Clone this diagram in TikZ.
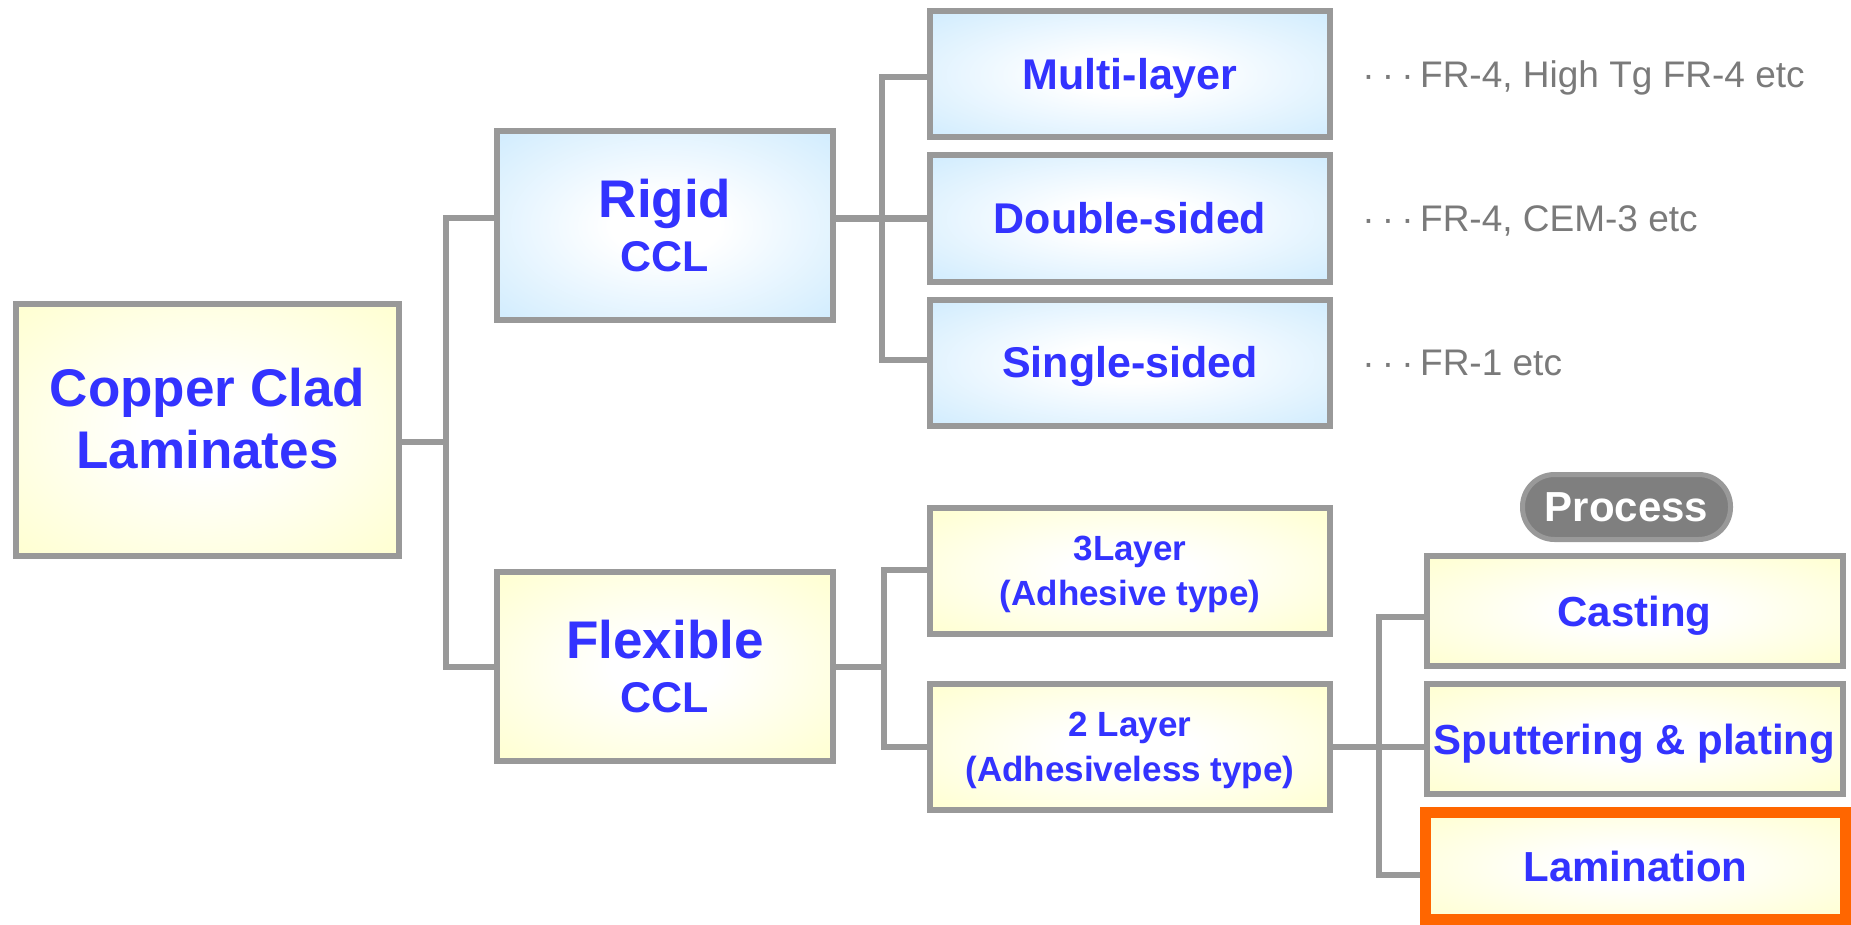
\documentclass[tikz,border=0pt]{standalone}
\usepackage{fontspec}
\setmainfont{Liberation Sans}
\definecolor{boxgray}{HTML}{999999}
\definecolor{txtblue}{HTML}{3333FF}
\definecolor{yel}{HTML}{FFFFCC}
\definecolor{blu}{HTML}{CCEAFE}
\definecolor{lblgray}{HTML}{7A7A7A}
\definecolor{pillfill}{HTML}{7F7F7F}
\definecolor{orng}{HTML}{FF6600}
\pgfdeclareradialshading{yshade}{\pgfpoint{0bp}{0bp}}{color(0bp)=(white); color(8bp)=(white); color(38bp)=(yel); color(50bp)=(yel)}
\pgfdeclareradialshading{bshade}{\pgfpoint{0bp}{0bp}}{color(0bp)=(white); color(8bp)=(white); color(38bp)=(blu); color(50bp)=(blu)}
\begin{document}
\begin{tikzpicture}[x=0.5pt,y=-0.5pt,
  basebox/.style={draw=boxgray, line width=3pt, inner sep=0pt, align=center, text=txtblue, font=\bfseries},
  ybox/.style={basebox, shade, shading=yshade},
  bbox/.style={basebox, shade, shading=bshade},
  conn/.style={draw=boxgray, line width=3.25pt, line join=miter},
  lbl/.style={anchor=base west, inner sep=0pt, text=lblgray, font=\fontsize{18.5pt}{22pt}\selectfont},
  colbox/.style={minimum width=200pt, minimum height=63pt, text height=15.4pt, text depth=0pt, font=\bfseries\fontsize{21.5pt}{25pt}\selectfont},
  flexsub/.style={minimum width=200pt, minimum height=63pt, text depth=0pt, font=\bfseries\fontsize{17.5pt}{22.5pt}\selectfont},
  procbox/.style={minimum width=208pt, minimum height=55pt, text height=15pt, text depth=0pt, font=\bfseries\fontsize{21pt}{25pt}\selectfont}
]
\useasboundingbox[fill=white] (0,0) rectangle (1851,925);

% level 0
\node[ybox, minimum width=191.5pt, minimum height=126pt, text depth=12pt, font=\bfseries\fontsize{26.5pt}{31pt}\selectfont] (ccl) at (207.5,430) {Copper Clad\\Laminates};

% level 1
\node[bbox, minimum width=168pt, minimum height=94.5pt, font=\bfseries\fontsize{21.5pt}{27pt}\selectfont] (rigid) at (665,225.5) {{\fontsize{26.5pt}{27pt}\selectfont Rigid}\\CCL};
\node[ybox, minimum width=168pt, minimum height=94.5pt, font=\bfseries\fontsize{21.5pt}{27pt}\selectfont] (flex) at (665,666.5) {{\fontsize{26.5pt}{27pt}\selectfont Flexible}\\CCL};

% level 2 rigid
\node[bbox, colbox] (multi) at (1130,74.5) {Multi-layer};
\node[bbox, colbox] (double) at (1130,218.5) {Double-sided};
\node[bbox, colbox] (single) at (1130,362.5) {Single-sided};

% level 2 flexible
\node[ybox, flexsub] (l3) at (1130,571) {3Layer\\(Adhesive type)};
\node[ybox, flexsub] (l2) at (1130,747) {2 Layer\\(Adhesiveless type)};

% process
\node[draw=boxgray, fill=pillfill, line width=2.5pt, rounded corners=16pt, minimum width=104pt, minimum height=32.5pt, inner sep=0pt, text=white, font=\bfseries\fontsize{21pt}{25pt}\selectfont] (proc) at (1626.5,507) {Process};
\node[ybox, procbox] (cast) at (1634.5,611) {Casting};
\node[ybox, procbox] (sput) at (1634.5,739) {Sputtering \& plating};
\node[ybox, procbox, draw=orng, line width=5.5pt, minimum width=210pt, minimum height=53.5pt] (lam) at (1635.5,866) {Lamination};

% labels
\node[lbl] (lbm) at (1362,88) {·\kern3.6pt·\kern3.6pt·\kern3.2pt FR-4, High Tg FR-4 etc};
\node[lbl] (lbd) at (1362,232) {·\kern3.6pt·\kern3.6pt·\kern3.2pt FR-4, CEM-3 etc};
\node[lbl] (lbs) at (1362,375) {·\kern3.6pt·\kern3.6pt·\kern3.2pt FR-1 etc};

% junction coordinates
\coordinate (t1a) at (446,218);
\coordinate (t1m) at (446,442);
\coordinate (t1b) at (446,667);
\coordinate (t2a) at (882,77);
\coordinate (t2b) at (882,360);
\coordinate (t3a) at (884,570);
\coordinate (t3m) at (884,667);
\coordinate (t3b) at (884,747);
\coordinate (t4a) at (1379,617);
\coordinate (t4b) at (1379,875);

% connectors
\draw[conn] (rigid.west |- t1a) -- (t1a) -- (t1b) -- (flex.west |- t1b);
\draw[conn] (ccl.east |- t1m) -- (t1m);
\draw[conn] (multi.west |- t2a) -- (t2a) -- (t2b) -- (single.west |- t2b);
\draw[conn] (rigid.east |- double.west) -- (double.west);
\draw[conn] (l3.west |- t3a) -- (t3a) -- (t3b) -- (l2.west |- t3b);
\draw[conn] (flex.east |- t3m) -- (t3m);
\draw[conn] (cast.west |- t4a) -- (t4a) -- (t4b) -- (lam.west |- t4b);
\draw[conn] (l2.east) -- (sput.west |- l2.east);
\end{tikzpicture}
\end{document}
